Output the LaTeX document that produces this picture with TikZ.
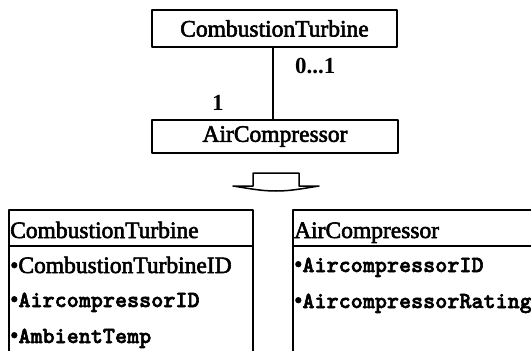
\documentclass[tikz,border=0pt]{standalone}
\usepackage{fontspec}
\setmainfont{Liberation Serif}
\newfontfamily\heavyserif{Liberation Serif}[FakeBold=2.5]
\newfontfamily\monob{lmmonolt10-bold}[Extension=.otf,FakeBold=2.5]
\begin{document}
\begin{tikzpicture}[x=1pt,y=-1pt,line join=round]
\useasboundingbox (0,0) rectangle (531,351);
\tikzset{
  boxline/.style={draw=black,line width=1.5pt},
  classbox/.style={boxline,rectangle,inner sep=0pt,font=\heavyserif\fontsize{23.5}{24}\selectfont},
  txt/.style={inner sep=0pt,anchor=base west,font=\heavyserif\fontsize{23.5}{24}\selectfont},
  mono/.style={inner sep=0pt,anchor=base west,font=\monob\fontsize{23}{24}\selectfont},
  mult/.style={inner sep=0pt,anchor=base west,font=\fontsize{23}{24}\selectfont\bfseries}
}
\newcommand{\blt}{{\heavyserif\fontsize{23.5}{24}\selectfont\textbullet}}
% top diagram
\node[classbox,minimum width=245pt,minimum height=37pt] (ct) at (274.5,28.5) {CombustionTurbine};
\node[classbox,minimum width=246pt,minimum height=33pt] (ac) at (275,136.5) {AirCompressor};
\coordinate (ctb) at (273,47);
\coordinate (act) at (273,120);
\draw[boxline] (ctb) -- (act);
\node[mult] (m01) at (295,73) {0...1};
\node[mult] (m1) at (212,110) {1};
% transformation arrow
\draw[boxline] (253,186) -- (253,173) -- (299,173) -- (299,186) -- (319,186)
  .. controls (300,189) and (290,191) .. (276,191)
  .. controls (262,191) and (252,189) .. (233,186) -- cycle;
% left class
\draw[boxline] (9,360) -- (9,210) -- (253,210) -- (253,360);
\draw[boxline] (9,246) -- (253,246);
\node[txt] (lh) at (10,238) {CombustionTurbine};
\node[txt] (la1) at (10,273) {\textbullet CombustionTurbineID};
\node[mono] (la2) at (10,307) {\blt AircompressorID};
\node[mono] (la3) at (10,343) {\blt AmbientTemp};
% right class
\draw[boxline] (293,360) -- (293,210) -- (540,210);
\draw[boxline] (293,246) -- (540,246);
\node[txt] (rh) at (294,238) {AirCompressor};
\node[mono] (ra1) at (294,272) {\blt AircompressorID};
\node[mono] (ra2) at (294,308) {\blt AircompressorRating};
\end{tikzpicture}
\end{document}
